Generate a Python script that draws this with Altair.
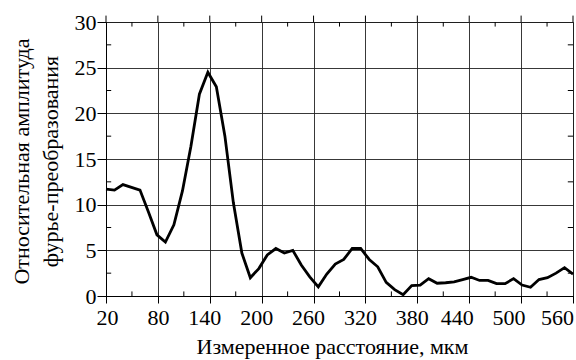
import altair as alt
import pandas as pd

# distances: 56 evenly spaced samples from 20 to 560 µm
x_vals = [20.0, 29.8, 39.6, 49.5, 59.3, 69.1, 78.9, 88.7, 98.5, 108.4,
          118.2, 128.0, 137.8, 147.6, 157.5, 167.3, 177.1, 186.9, 196.7, 206.5,
          216.4, 226.2, 236.0, 245.8, 255.6, 265.5, 275.3, 285.1, 294.9, 304.7,
          314.5, 324.4, 334.2, 344.0, 353.8, 363.6, 373.5, 383.3, 393.1, 402.9,
          412.7, 422.5, 432.4, 442.2, 452.0, 461.8, 471.6, 481.5, 491.3, 501.1,
          510.9, 520.7, 530.5, 540.4, 550.2, 560.0]
amp = [11.7, 11.6, 12.2, 11.9, 11.6, 9.2, 6.7, 5.9, 7.8, 11.5,
       16.4, 22.1, 24.5, 22.9, 17.5, 10.2, 4.7, 2.0, 3.0, 4.5,
       5.2, 4.7, 5.0, 3.4, 2.1, 1.0, 2.4, 3.5, 4.0, 5.2,
       5.2, 4.0, 3.2, 1.5, 0.7, 0.15, 1.15, 1.2, 1.9, 1.4,
       1.45, 1.55, 1.8, 2.05, 1.7, 1.7, 1.35, 1.35, 1.9, 1.2,
       0.95, 1.8, 2.0, 2.5, 3.1, 2.4]

x_major = [20, 80, 140, 200, 260, 320, 380, 440, 500, 560]
x_minor = [50, 110, 170, 230, 290, 350, 410, 470, 530]
y_major = [0, 5, 10, 15, 20, 25, 30]
y_minor = [2.5, 7.5, 12.5, 17.5, 22.5, 27.5]

FONT = "Liberation Serif"

df = pd.DataFrame({"x": x_vals, "y": amp})

xs = alt.Scale(domain=[20, 560], nice=False, zero=False)
ys = alt.Scale(domain=[0, 30], nice=False)

line = alt.Chart(df).mark_line(color="black", strokeWidth=2.8, strokeJoin="miter").encode(
    x=alt.X("x:Q", scale=xs, axis=alt.Axis(
        values=x_major, title="Измеренное расстояние, мкм",
        tickSize=7, labelPadding=4, labelFlush=False, labelOverlap=False, labelBound=False,
        labelOffset=alt.ExprRef("datum.value == 20 ? 1 : datum.value <= 80 ? 0 : datum.value <= 380 ? -5.5 : datum.value == 560 ? -16 : -12.5"),
        titleX=226, titleY=57, titleAlign="center", titleBaseline="alphabetic",
        grid=True)),
    y=alt.Y("y:Q", scale=ys, axis=alt.Axis(
        values=y_major, title=["Относительная амплитуда", "фурье-преобразования"],
        tickSize=9, labelPadding=1, titleAngle=-90, titleX=-78, titleY=139,
        titleAlign="center", titleBaseline="alphabetic", titleLineHeight=29,
        grid=True)),
)

# minor ticks (inward) and outward top ticks
tick_len_y = 0.5
tick_len_x = 6.0
mb = pd.DataFrame({"x": x_minor})
minor_bottom = alt.Chart(mb).mark_rule(color="black", strokeWidth=1).encode(
    x="x:Q", y=alt.datum(0), y2=alt.datum(tick_len_y))
minor_top = alt.Chart(mb).mark_rule(color="black", strokeWidth=1).encode(
    x="x:Q", y=alt.datum(30), y2=alt.datum(30 - tick_len_y))
ml = pd.DataFrame({"y": y_minor})
minor_left = alt.Chart(ml).mark_rule(color="black", strokeWidth=1).encode(
    y="y:Q", x=alt.datum(20), x2=alt.datum(20 + tick_len_x))
minor_right = alt.Chart(ml).mark_rule(color="black", strokeWidth=1).encode(
    y="y:Q", x=alt.datum(560), x2=alt.datum(560 - tick_len_x))
mt = pd.DataFrame({"x": x_major})
major_top = alt.Chart(mt).mark_rule(color="black", strokeWidth=1, clip=False).encode(
    x="x:Q", y=alt.datum(30), y2=alt.datum(30.7))

chart = alt.layer(line, minor_bottom, minor_top, minor_left, minor_right, major_top).properties(
    width=467, height=274,
    padding={"left": 106, "top": 22, "right": 3, "bottom": 64},
    autosize=alt.AutoSizeParams(type="none"),
    background="white",
).configure_view(stroke="black", strokeWidth=1).configure_axis(
    labelFont=FONT, titleFont=FONT, labelFontSize=22, titleFontSize=22,
    labelColor="black", titleColor="black", titleFontWeight="normal",
    domainColor="black", tickColor="black", gridColor="#222", gridWidth=1, gridOpacity=0.9,
)

chart.save("out.html", embed_options={"renderer": "svg", "actions": False})
